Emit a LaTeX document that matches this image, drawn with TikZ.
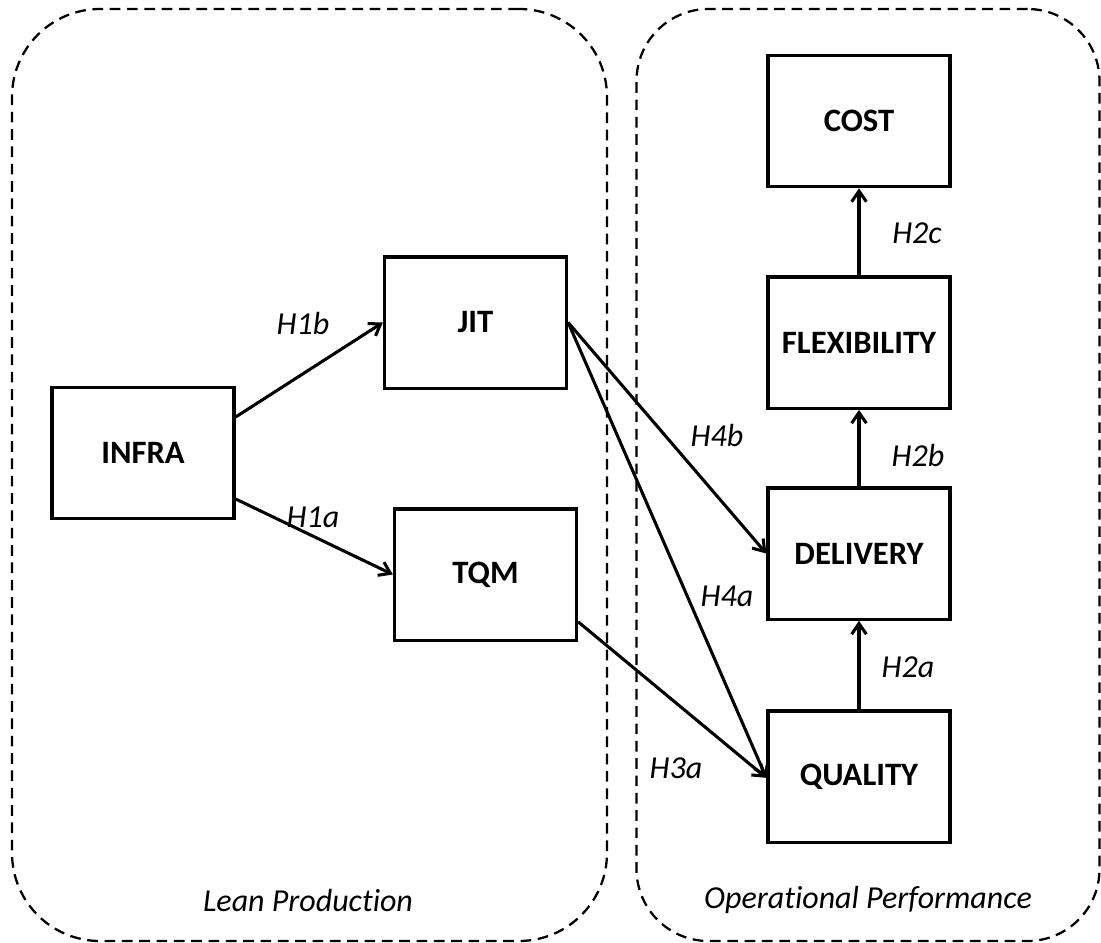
\documentclass[tikz,border=0pt]{standalone}
\usepackage{fontspec}
\setmainfont{Carlito}[Ligatures=NoCommon]
\usetikzlibrary{arrows.meta}
\begin{document}
\begin{tikzpicture}[x=0.75pt,y=-0.75pt,
  box/.style={draw, line width=2.5pt, minimum width=136.5pt, minimum height=98.5pt, inner sep=0pt, font=\bfseries\fontsize{24.5}{29}\selectfont},
  group/.style={draw, dash pattern=on 8pt off 5pt, line width=1.7pt, inner sep=0pt},
  hyp/.style={font=\itshape\fontsize{24}{29}\selectfont, inner sep=1pt},
  arr/.style={line width=2.3pt, -{Straight Barb[length=8pt,width=11pt]}},
]
\useasboundingbox (0,0) rectangle (1101,943);
% containers
\node[group, minimum width=446.25pt, minimum height=699pt, rounded corners=66pt] (lean) at (309.5,475) {};
\node[group, minimum width=347.25pt, minimum height=699pt, rounded corners=54pt] (oper) at (868,475) {};
\node[hyp] (leanlbl) at (308,900) {Lean Production};
\node[hyp] (operlbl) at (868,900) {Operational Performance};
% boxes
\node[box] (cost) at (859,121) {COST};
\node[box] (flex) at (859,342.5) {FLEXIBILITY};
\node[box] (deliv) at (859,553.5) {DELIVERY};
\node[box] (qual) at (859,776.5) {QUALITY};
\node[box] (infra) at (143,453) {INFRA};
\node[box] (jit) at (475.5,322.5) {JIT};
\node[box] (tqm) at (485.5,574.5) {TQM};
% arrows
\draw[arr] ([yshift=27pt]infra.east) -- (jit.west);
\draw[arr] ([yshift=-34.5pt]infra.east) -- (tqm.west);
\draw[arr] (jit.east) -- (deliv.west);
\draw[arr] (jit.east) -- ([yshift=-1pt]qual.west);
\draw[arr] ([yshift=-35.5pt]tqm.east) -- ([yshift=-1pt]qual.west);
\draw[arr] (qual.north) -- (deliv.south);
\draw[arr] (deliv.north) -- (flex.south);
\draw[arr] (flex.north) -- (cost.south);
% hypothesis labels
\node[hyp] (h1b) at (303,323) {H1b};
\node[hyp] (h1a) at (313,517) {H1a};
\node[hyp] (h4b) at (717,435) {H4b};
\node[hyp] (h4a) at (727,596) {H4a};
\node[hyp] (h3a) at (676,768) {H3a};
\node[hyp] (h2a) at (908,667) {H2a};
\node[hyp] (h2b) at (918,455) {H2b};
\node[hyp] (h2c) at (917,233) {H2c};
\end{tikzpicture}
\end{document}
